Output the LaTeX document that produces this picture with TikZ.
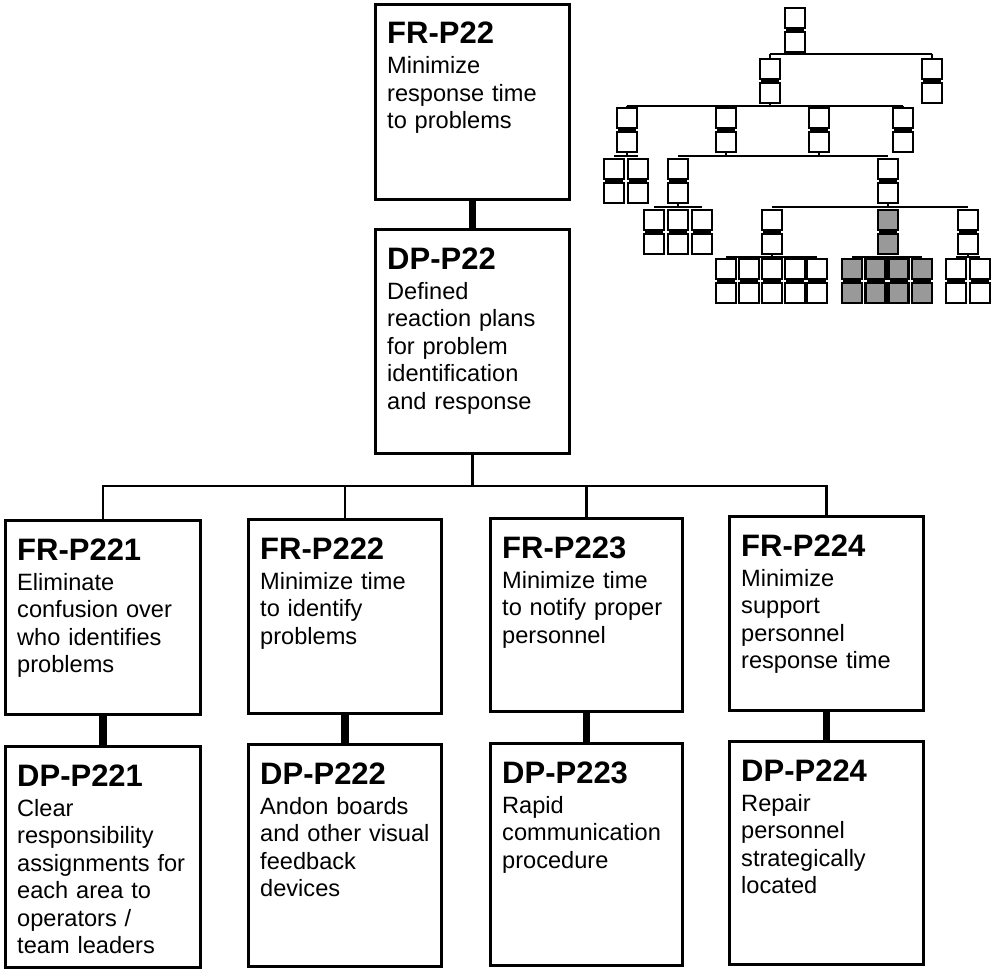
\documentclass[tikz,border=0pt]{standalone}
\usepackage{fontspec}
\setmainfont{Liberation Sans}
\tikzset{
  bx/.style={draw, line width=2.6pt, inner sep=0pt, anchor=north west, fill=white},
  ttl/.style={anchor=base west, inner sep=0pt, font=\bfseries\fontsize{31}{31}\selectfont},
  bdy/.style={anchor=base west, inner sep=0pt, text width=190pt, align=left, font=\fontsize{23.6}{27.5}\selectfont},
  thinc/.style={line width=2.4pt},
  thickc/.style={line width=7.5pt},
  mini/.style={line width=2.2pt},
}
\newcommand{\dbox}[7]{%
  \node[bx, minimum width=#4pt, minimum height=#5pt] (#1) at (#2,#3) {};
  \node[ttl] (#1t) at ([xshift=13pt,yshift=-41pt]#1.north west) {#6};
  \node[bdy] (#1b) at ([xshift=13pt,yshift=-71pt]#1.north west) {#7};
}
\newcommand{\mpair}[3]{%
  \draw[mini, fill=#3] ({#1-10},#2) rectangle ({#1+10},{#2+20});
  \draw[mini, fill=#3] ({#1-10},{#2+24}) rectangle ({#1+10},{#2+44});
  \fill[black] ({#1-9},{#2+19}) rectangle ({#1+9},{#2+25});
}
\begin{document}
\begin{tikzpicture}[x=1pt,y=-1pt]
\useasboundingbox (0,0) rectangle (992,968);

% main boxes
\dbox{fr22}{374}{3}{194}{195}{FR-P22}{Minimize\\response time\\to problems}
\dbox{dp22}{374}{228}{194}{224}{DP-P22}{Defined\\reaction plans\\for problem\\identification\\and response}
\dbox{fr221}{4}{519}{195}{194}{FR-P221}{Eliminate\\confusion over\\who identifies\\problems}
\dbox{dp221}{4}{745}{195}{221}{DP-P221}{Clear\\responsibility\\assignments for\\each area to\\operators /\\team leaders}
\dbox{fr222}{247}{518}{193}{194}{FR-P222}{Minimize time\\to identify\\problems}
\dbox{dp222}{247}{743}{193}{222}{DP-P222}{Andon boards\\and other visual\\feedback\\devices}
\dbox{fr223}{489}{517}{192}{193}{FR-P223}{Minimize time\\to notify proper\\personnel}
\dbox{dp223}{489}{742}{192}{222}{DP-P223}{Rapid\\communication\\procedure}
\dbox{fr224}{728}{515}{194}{194}{FR-P224}{Minimize\\support\\personnel\\response time}
\dbox{dp224}{728}{740}{194}{223}{DP-P224}{Repair\\personnel\\strategically\\located}

% connectors
\coordinate (bus) at (471,486);
\draw[thickc] (fr22.south) -- (dp22.north);
\draw[thinc] (dp22.south) -- (dp22.south |- bus);
\draw[thinc] (fr221.north) -- (fr221.north |- bus) -- (fr224.north |- bus) -- (fr224.north);
\draw[thinc] (fr222.north) -- (fr222.north |- bus);
\draw[thinc] (fr223.north) -- (fr223.north |- bus);
\draw[thickc] (fr221.south) -- (dp221.north);
\draw[thickc] (fr222.south) -- (dp222.north);
\draw[thickc] (fr223.south) -- (dp223.north);
\draw[thickc] (fr224.south) -- (dp224.north);

% mini tree: connectors
\draw[mini] (795,50) -- (795,54);
\draw[mini] (770,54) -- (932,54);
\draw[mini] (770,54) -- (770,59) (932,54) -- (932,59);
\draw[mini] (770,103) -- (770,106);
\draw[mini] (627,106) -- (903,106);
\foreach \cx in {627,726,819,903} \draw[mini] (\cx,106) -- (\cx,108);
\draw[mini] (627,152) -- (627,156);
\draw[mini] (614,156) -- (638,156);
\draw[mini] (726,152) -- (726,156) (819,152) -- (819,156);
\draw[mini] (678,156) -- (888,156);
\draw[mini] (678,203) -- (678,207);
\draw[mini] (654,207) -- (702,207);
\draw[mini] (888,203) -- (888,207);
\draw[mini] (772,207) -- (968,207);
\draw[mini] (772,254) -- (772,257);
\draw[mini] (726,257) -- (817,257);
\draw[mini] (852,257) -- (922,257);
\draw[mini] (968,254) -- (968,257);
\draw[mini] (956,257) -- (980,257);

% mini tree: pairs
\mpair{795}{8}{white}
\mpair{770}{59}{white}
\mpair{932}{59}{white}
\foreach \cx in {627,726,819,903} {\mpair{\cx}{108}{white}}
\foreach \cx in {614,638,678,888} {\mpair{\cx}{159}{white}}
\foreach \cx in {654,678,702,772,968} {\mpair{\cx}{210}{white}}
\mpair{888}{210}{black!40}
\foreach \cx in {726,749,772,795,817,956,980} {\mpair{\cx}{259}{white}}
\foreach \cx in {852,875.5,898.5,922} {\mpair{\cx}{259}{black!40}}
\end{tikzpicture}
\end{document}
